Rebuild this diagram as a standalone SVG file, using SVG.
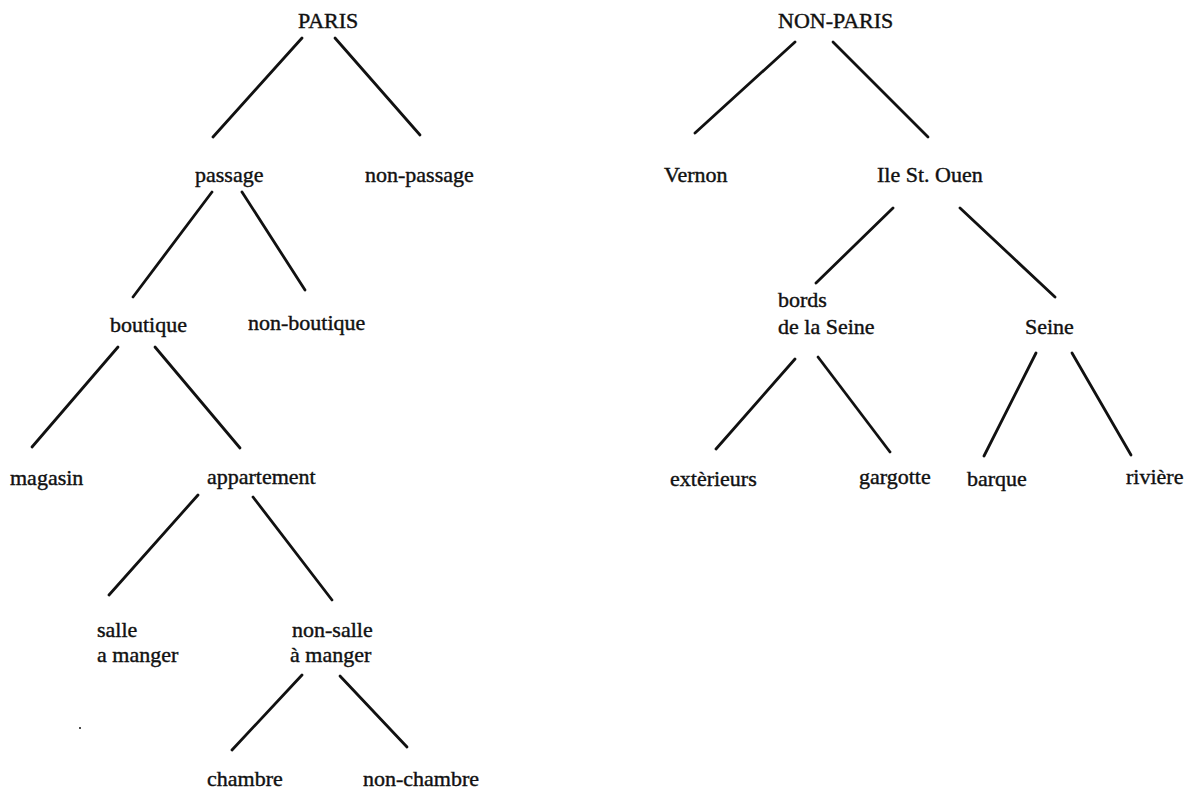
<svg xmlns="http://www.w3.org/2000/svg" width="1194" height="793" viewBox="0 0 1194 793">
<style>
text{font-family:"Liberation Serif","Times New Roman",serif;font-size:22px;fill:#111;stroke:#111;stroke-width:0.4px}
#edges line{stroke:#111;stroke-width:2.8;stroke-linecap:round}
</style>
<rect width="1194" height="793" fill="#fff"/>
<g id="edges">
<line x1="302" y1="38" x2="213" y2="137"/>
<line x1="335" y1="38" x2="420" y2="135"/>
<line x1="212" y1="192" x2="133" y2="297"/>
<line x1="242" y1="192" x2="305" y2="290"/>
<line x1="118" y1="347" x2="32" y2="447"/>
<line x1="155" y1="347" x2="240" y2="448"/>
<line x1="198" y1="495" x2="109" y2="595"/>
<line x1="253" y1="497" x2="332" y2="600"/>
<line x1="302" y1="675" x2="232" y2="750"/>
<line x1="340" y1="676" x2="407" y2="747"/>
<line x1="795" y1="42" x2="695" y2="133"/>
<line x1="833" y1="42" x2="928" y2="137"/>
<line x1="893" y1="208" x2="816" y2="283"/>
<line x1="960" y1="208" x2="1055" y2="297"/>
<line x1="795" y1="359" x2="716" y2="449"/>
<line x1="818" y1="357" x2="890" y2="452"/>
<line x1="1036" y1="353" x2="984" y2="456"/>
<line x1="1072" y1="353" x2="1131" y2="455"/>
</g>
<g id="n-paris"><text x="298" y="28">PARIS</text></g>
<g id="n-nonparis"><text x="778" y="28">NON-PARIS</text></g>
<g id="n-passage"><text x="195" y="182">passage</text></g>
<g id="n-nonpassage"><text x="365" y="182">non-passage</text></g>
<g id="n-vernon"><text x="664" y="182">Vernon</text></g>
<g id="n-ile"><text x="877" y="182">Ile St. Ouen</text></g>
<g id="n-boutique"><text x="110" y="332">boutique</text></g>
<g id="n-nonboutique"><text x="248" y="330">non-boutique</text></g>
<g id="n-bords"><text x="778" y="307">bords</text><text x="778" y="334">de la Seine</text></g>
<g id="n-seine"><text x="1025" y="334">Seine</text></g>
<g id="n-magasin"><text x="10" y="485">magasin</text></g>
<g id="n-appartement"><text x="207" y="484">appartement</text></g>
<g id="n-exterieurs"><text x="670" y="486">extèrieurs</text></g>
<g id="n-gargotte"><text x="859" y="484">gargotte</text></g>
<g id="n-barque"><text x="967" y="486">barque</text></g>
<g id="n-riviere"><text x="1126" y="484">rivière</text></g>
<g id="n-salle"><text x="97" y="637">salle</text><text x="97" y="662">a manger</text></g>
<g id="n-nonsalle"><text x="292" y="637">non-salle</text><text x="290" y="662">à manger</text></g>
<g id="n-chambre"><text x="207" y="786">chambre</text></g>
<g id="n-nonchambre"><text x="363" y="786">non-chambre</text></g>
<circle cx="80" cy="728" r="1" fill="#111"/>
</svg>
